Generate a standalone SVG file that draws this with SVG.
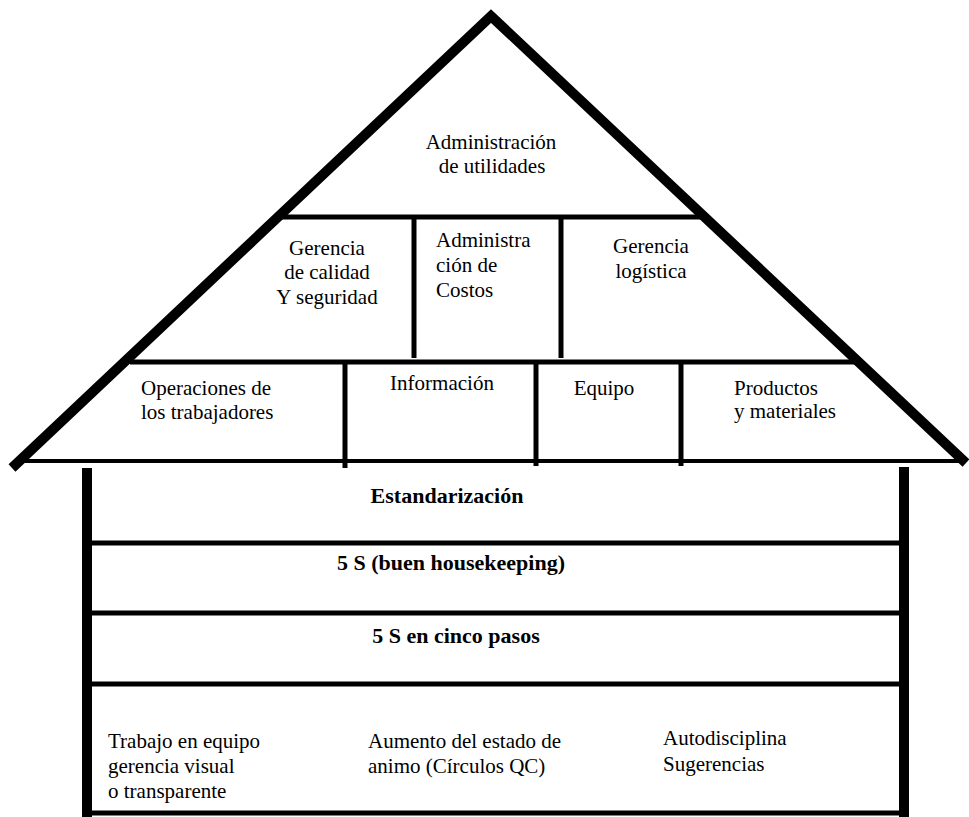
<svg xmlns="http://www.w3.org/2000/svg" width="969" height="817" viewBox="0 0 969 817">
<style>
text{font-family:"Liberation Serif","Times New Roman","DejaVu Serif",serif;font-size:21px;fill:#000}
.c{text-anchor:middle}
.b{font-weight:bold;font-size:22px}
.thick{stroke:#000;stroke-width:10;fill:none;stroke-linecap:butt}
.mid{stroke:#000;stroke-width:5;fill:none}
.thin{stroke:#000;stroke-width:4;fill:none}
</style>
<rect width="969" height="817" fill="#fff"/>
<g id="connectors">
<polyline class="thick" points="12,468 491,16 966,463" stroke-linejoin="miter"/>
<line class="thin" x1="22" y1="461" x2="960" y2="461"/>
<line class="mid" x1="280" y1="217" x2="706" y2="217"/>
<line class="mid" x1="130" y1="362" x2="860" y2="362"/>
<line class="mid" x1="414" y1="217" x2="414" y2="358"/>
<line class="mid" x1="561" y1="217" x2="561" y2="358"/>
<line class="mid" x1="345" y1="362" x2="345" y2="468"/>
<line class="mid" x1="536" y1="362" x2="536" y2="466"/>
<line class="mid" x1="681" y1="362" x2="681" y2="466"/>
<line class="thick" x1="87" y1="468" x2="87" y2="817"/>
<line class="thick" x1="904" y1="467" x2="904" y2="817"/>
<line class="mid" x1="87" y1="543" x2="904" y2="543"/>
<line class="mid" x1="87" y1="613" x2="904" y2="613"/>
<line class="mid" x1="87" y1="684" x2="904" y2="684"/>
<line class="mid" x1="87" y1="813" x2="904" y2="813"/>
</g>
<g id="utilidades"><text class="c" x="491" y="149">Administración</text><text class="c" x="492" y="173">de utilidades</text></g>
<g id="calidad"><text class="c" x="327" y="255">Gerencia</text><text class="c" x="327" y="279">de calidad</text><text class="c" x="327" y="304">Y seguridad</text></g>
<g id="costos"><text x="436" y="247">Administra</text><text x="436" y="272">ción de</text><text x="436" y="297">Costos</text></g>
<g id="logistica"><text class="c" x="651" y="253">Gerencia</text><text class="c" x="651" y="278">logística</text></g>
<g id="operaciones"><text x="141" y="395">Operaciones de</text><text x="141" y="419">los trabajadores</text></g>
<g id="informacion"><text class="c" x="442" y="390">Información</text></g>
<g id="equipo"><text class="c" x="604" y="395">Equipo</text></g>
<g id="productos"><text x="734" y="395">Productos</text><text x="734" y="418">y materiales</text></g>
<g id="estandarizacion"><text class="c b" x="447" y="503">Estandarización</text></g>
<g id="housekeeping"><text class="c b" x="451" y="570">5 S (buen housekeeping)</text></g>
<g id="cincopasos"><text class="c b" x="456" y="643">5 S en cinco pasos</text></g>
<g id="trabajo"><text x="108" y="748">Trabajo en equipo</text><text x="108" y="773">gerencia visual</text><text x="108" y="798">o transparente</text></g>
<g id="animo"><text x="368" y="748">Aumento del estado de</text><text x="368" y="773">animo (Círculos QC)</text></g>
<g id="autodisciplina"><text x="663" y="745">Autodisciplina</text><text x="663" y="771">Sugerencias</text></g>
</svg>
